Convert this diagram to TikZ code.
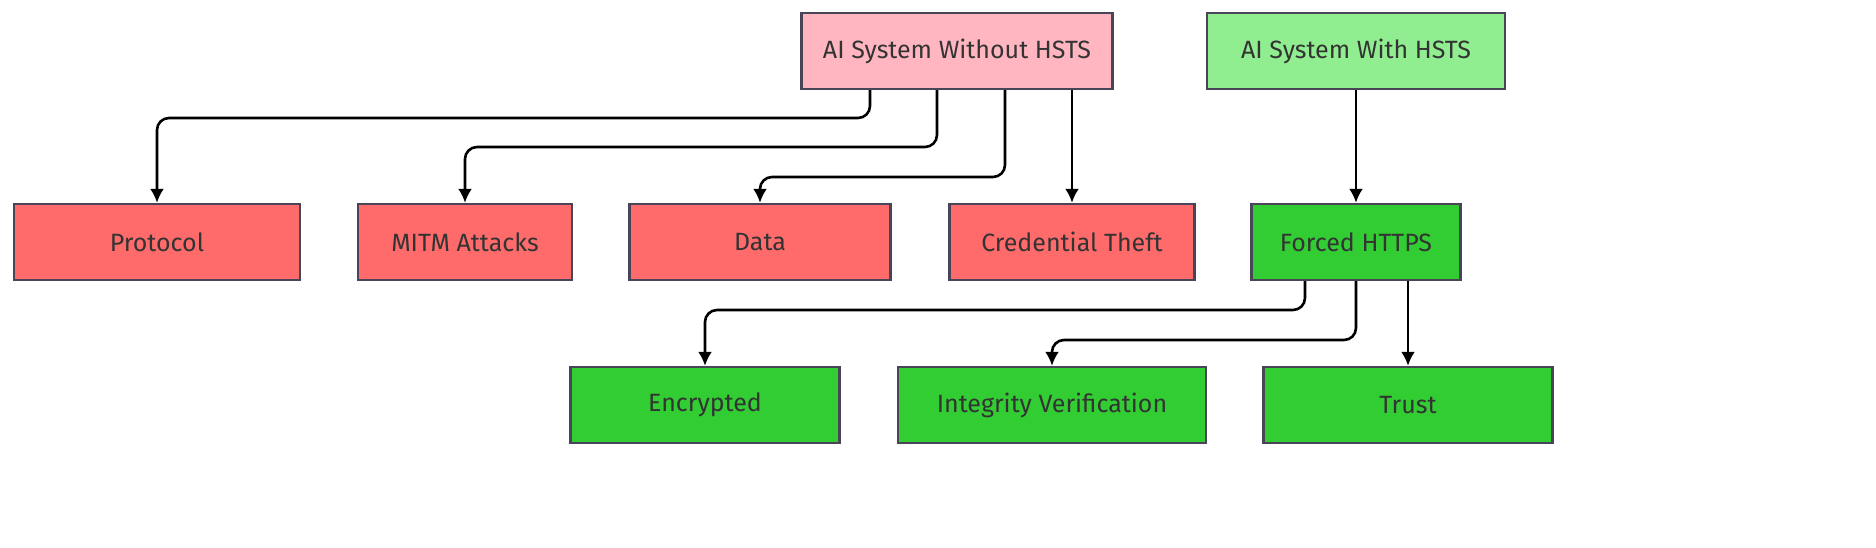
\documentclass[tikz,border=0pt]{standalone}
\usepackage{fontspec}
\setmainfont{Fira Sans}
\usetikzlibrary{arrows.meta}
\definecolor{pinkc}{HTML}{FFB6C1}\definecolor{lgreen}{HTML}{90EE90}
\definecolor{redc}{HTML}{FF6B6B}\definecolor{gc}{HTML}{32CD32}
\definecolor{bord}{HTML}{4A4458}
\begin{document}
\begin{tikzpicture}[x=0.5pt,y=-0.5pt,
 box/.style={draw=bord,line width=1.2pt,minimum height=38pt,inner sep=0pt,text=black!80,font=\fontsize{12.5}{14}\selectfont},
 rbox/.style={box,fill=redc},
 gbox/.style={box,fill=gc},
 arr/.style={-{Latex[length=7pt,width=7pt]},line width=1.3pt,rounded corners=6pt}]
\useasboundingbox (0,0) rectangle (1876,547);
\node[box,fill=pinkc,minimum width=155.5pt] (w) at (957,51) {AI System Without HSTS};
\node[box,fill=lgreen,minimum width=149pt] (h) at (1356,51) {AI System With HSTS};
\node[rbox,minimum width=143pt] (p) at (157,242) {Protocol};
\node[rbox,minimum width=107pt] (m) at (465,242) {MITM Attacks};
\node[rbox,minimum width=130.5pt] (d) at (760,242) {Data};
\node[rbox,minimum width=122.5pt] (c) at (1072,242) {Credential Theft};
\node[gbox,minimum width=104.5pt] (f) at (1356,242) {Forced HTTPS};
\node[gbox,minimum width=134.5pt] (e) at (705,405) {Encrypted};
\node[gbox,minimum width=154pt] (i) at (1052,405) {Integrity Verification};
\node[gbox,minimum width=144.5pt] (t) at (1408,405) {Trust};
\draw[arr] (w.south -| 870,0) -- (870,118) -- (157,118) -- (p.north);
\draw[arr] (w.south -| 937,0) -- (937,147) -- (465,147) -- (m.north);
\draw[arr] (w.south -| 1005,0) -- (1005,177) -- (760,177) -- (d.north);
\draw[arr] (w.south -| c) -- (c.north);
\draw[arr] (h.south) -- (f.north);
\draw[arr] (f.south -| 1305,0) -- (1305,310) -- (705,310) -- (e.north);
\draw[arr] (f.south) -- (1356,340) -- (1052,340) -- (i.north);
\draw[arr] (f.south -| t) -- (t.north);
\end{tikzpicture}
\end{document}
